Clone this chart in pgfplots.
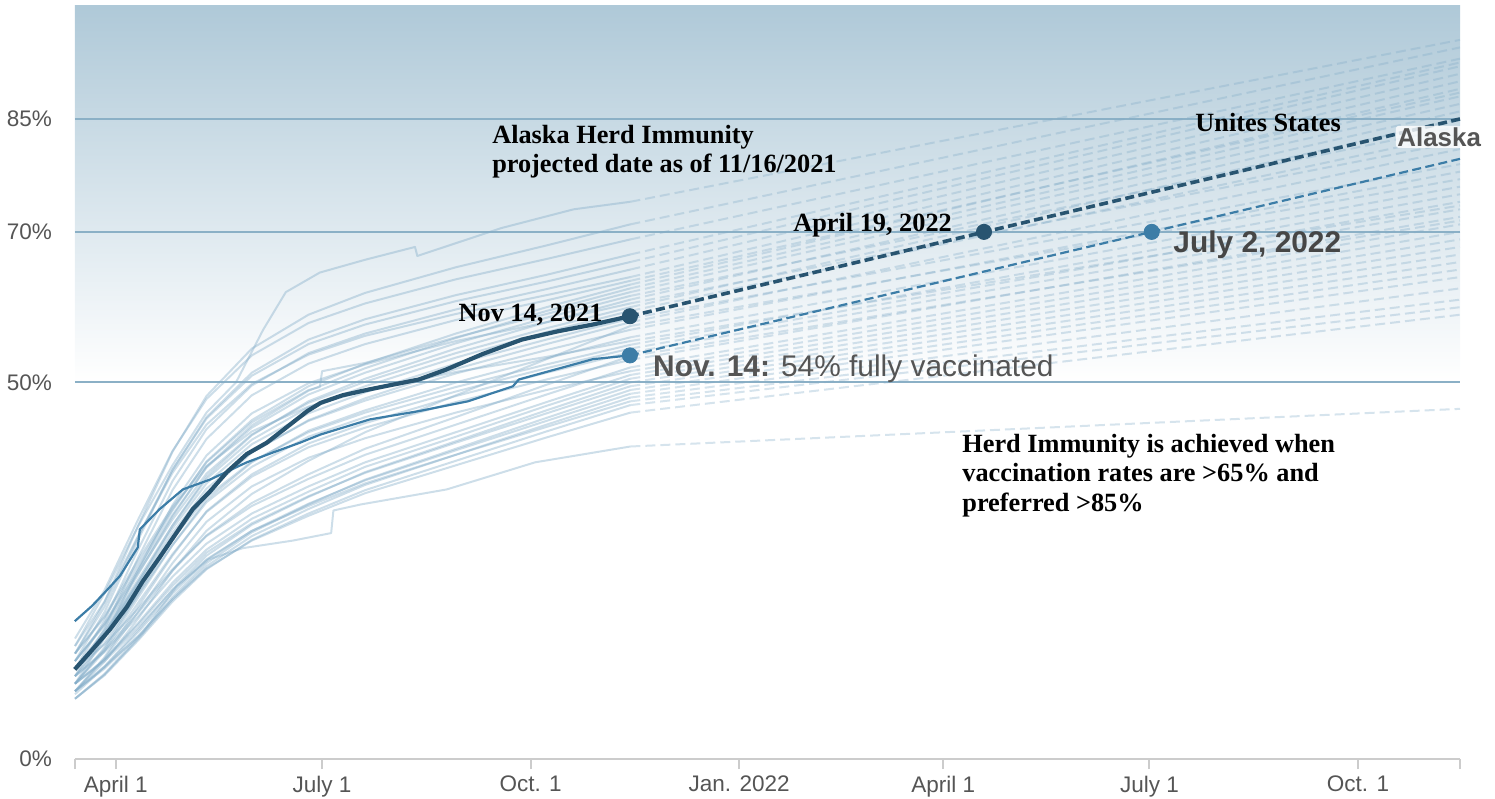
\documentclass[border=0pt]{standalone}
\usepackage{pgfplots}
\pgfplotsset{compat=1.18}
\usepackage{fontspec}
\setmainfont{Liberation Serif}
\newfontfamily\sansf{Liberation Sans}
\definecolor{cDark}{RGB}{40,84,112}
\definecolor{cMid}{RGB}{60,125,167}
\definecolor{cLight}{RGB}{130,172,200}
\definecolor{cTop}{RGB}{175,201,216}
\definecolor{cGrid}{RGB}{139,176,198}
\definecolor{cAxis}{RGB}{204,204,204}
\definecolor{cLabel}{RGB}{85,85,85}
\definecolor{cAnno}{RGB}{70,70,70}
\begin{document}
\begin{tikzpicture}
\begin{axis}[
  scale only axis, width=692.5bp, height=376.5bp,
  xmin=72, xmax=683, ymin=0, ymax=100,
  clip=false,
  axis lines*=left,
  x axis line style={draw=cAxis, line width=1bp},
  y axis line style={draw=none},
  tick align=outside,
  major tick length=5bp,
  xtick style={draw=cAxis, line width=1bp},
  ytick style={draw=none},
  xtick={72,90,181,273,365,455,546,638,683},
  xticklabels={,April 1,July 1,Oct. 1,Jan. 2022,April 1,July 1,Oct. 1,},
  ytick={0,50,70,85},
  yticklabels={0\%,50\%,70\%,85\%},
  tick label style={font=\sansf\fontsize{11.3}{13}\selectfont, text=cLabel},
  yticklabel style={xshift=-3bp},
  stS/.style={draw=cLight, draw opacity=0.4, line width=1bp, mark=none, line join=round},
  stD/.style={draw=cLight, draw opacity=0.33, line width=1bp, mark=none, dash pattern=on 5bp off 2.5bp},
]
% background gradient and grid
\fill[top color=cTop, bottom color=white, draw=none] (axis cs:72,50) rectangle (axis cs:683,100);
\draw[cGrid, line width=1bp] (axis cs:72,50) -- (axis cs:683,50);
\draw[cGrid, line width=1bp] (axis cs:72,70) -- (axis cs:683,70);
\draw[cGrid, line width=1bp] (axis cs:72,85) -- (axis cs:683,85);

% state lines (solid, to Nov 14 2021)
\addplot[stS] coordinates {(72,15)(85,22)(100,31)(115,39)(130,46)(143,50)(155,57)(165,62)(180,64.6)(200,66.3)(222,68)(223,66.8)(260,70.5)(292,73)(317,74)};
\addplot[stS] coordinates {(72,14)(85,20.8)(100,31.1)(115,40.8)(130,48.2)(150,54.5)(175,59.0)(200,61.9)(240,65.3)(280,68.2)(317,71)};
\addplot[stS] coordinates {(72,16)(85,22.4)(100,31.9)(115,40.9)(130,47.8)(150,53.6)(175,57.9)(200,60.5)(240,63.7)(280,66.4)(317,69)};
\addplot[stS] coordinates {(72,13)(85,19.5)(100,29.2)(115,38.4)(130,45.4)(150,51.3)(175,55.7)(200,58.4)(240,61.6)(280,64.3)(317,67)};
\addplot[stS] coordinates {(72,14)(85,20.2)(100,29.6)(115,38.4)(130,45.2)(150,50.9)(175,55.1)(200,57.7)(240,60.8)(280,63.4)(317,66)};
\addplot[stS] coordinates {(72,12)(85,18.4)(100,27.9)(115,36.9)(130,43.8)(150,49.6)(175,53.9)(200,56.5)(240,59.7)(280,62.4)(317,65)};
\addplot[stS] coordinates {(72,15)(85,20.9)(100,29.7)(115,38.0)(130,44.4)(150,49.8)(175,53.7)(200,56.2)(240,59.1)(280,61.6)(317,64)};
\addplot[stS] coordinates {(72,11)(85,17.3)(100,26.8)(115,35.7)(130,42.5)(150,48.3)(175,52.5)(200,55.1)(240,58.3)(280,60.9)(317,63.5)};
\addplot[stS] coordinates {(72,13)(85,18)(100,25.5)(115,33)(130,39.5)(150,45)(175,49.5)(200,52.5)(240,56.5)(280,60)(317,63)};
\addplot[stS] coordinates {(72,12)(85,17.1)(100,24.6)(115,32.2)(130,38.8)(150,44.3)(175,48.9)(200,51.9)(240,55.9)(280,59.5)(317,62.5)};
\addplot[stS] coordinates {(72,14)(85,18.8)(100,26)(115,33.2)(130,39.4)(150,44.7)(175,49.0)(180,49.4)(181,51.5)(200,52.6)(240,56.0)(280,59.1)(317,62)};
\addplot[stS] coordinates {(72,13)(85,17.9)(100,25.1)(115,32.4)(130,38.7)(150,44.0)(175,48.4)(200,51.3)(240,55.2)(280,58.6)(317,61.5)};
\addplot[stS] coordinates {(72,11)(85,16)(100,23.5)(115,31)(130,37.5)(150,43)(175,47.5)(200,50.5)(240,54.5)(280,58)(317,61)};
\addplot[stS] coordinates {(72,10)(85,16.1)(100,25.2)(115,33.7)(130,40.3)(150,45.9)(175,49.9)(200,52.4)(240,55.5)(280,58.0)(317,60.5)};
\addplot[stS] coordinates {(72,13)(85,17.7)(100,24.8)(115,31.8)(130,37.9)(150,43.1)(175,47.3)(200,50.1)(240,53.9)(280,57.2)(317,60)};
\addplot[stS] coordinates {(72,12)(85,16.8)(100,23.9)(115,31)(130,37.2)(150,42.4)(175,46.7)(200,49.5)(240,53.3)(280,56.7)(317,59.5)};
\addplot[stS] coordinates {(72,12)(85,16.7)(100,23.6)(115,30.6)(130,36.6)(150,41.8)(175,45.9)(200,48.7)(240,52.5)(280,55.7)(317,58.5)};
\addplot[stS] coordinates {(72,10)(85,14.8)(100,22)(115,29.2)(130,35.4)(150,40.7)(175,45.0)(200,47.9)(240,51.8)(280,55.1)(317,58)};
\addplot[stS] coordinates {(72,9)(85,12.9)(100,18.7)(115,25.0)(130,30.3)(150,35.2)(175,39.6)(200,43.4)(240,48.3)(280,53.1)(317,57.5)};
\addplot[stS] coordinates {(72,12)(85,16.5)(100,23.3)(115,30)(130,35.9)(150,40.8)(175,44.9)(200,47.6)(240,51.2)(280,54.3)(317,57)};
\addplot[stS] coordinates {(72,10)(85,14.6)(100,21.5)(115,28.4)(130,34.4)(150,39.4)(175,43.6)(200,46.3)(240,50.0)(280,53.2)(317,56)};
\addplot[stS] coordinates {(72,14)(85,19.0)(100,26.5)(115,33.5)(130,38.9)(150,43.5)(175,46.8)(200,48.9)(240,51.4)(280,53.4)(317,55.5)};
\addplot[stS] coordinates {(72,12)(85,16.3)(100,22.8)(115,29.2)(130,34.8)(150,39.5)(175,43.4)(200,46.0)(240,49.4)(280,52.4)(317,55)};
\addplot[stS] coordinates {(72,11)(85,15.4)(100,21.9)(115,28.4)(130,34.1)(150,38.8)(175,42.8)(200,45.4)(240,48.8)(280,51.9)(317,54.5)};
\addplot[stS] coordinates {(72,9)(85,13.5)(100,20.3)(115,27)(130,32.9)(150,37.8)(175,41.9)(200,44.6)(240,48.2)(280,51.3)(317,54)};
\addplot[stS] coordinates {(72,11)(85,14.4)(100,19.5)(115,25.0)(130,29.7)(150,34.0)(175,37.8)(200,41.2)(240,45.4)(280,49.7)(317,53.5)};
\addplot[stS] coordinates {(72,10)(85,14.3)(100,20.8)(115,27.2)(130,32.8)(150,37.5)(175,41.4)(200,44.0)(240,47.4)(280,50.4)(317,53)};
\addplot[stS] coordinates {(72,12)(85,15.2)(100,20)(115,25.2)(130,29.6)(150,33.6)(175,37.2)(200,40.4)(240,44.4)(280,48.4)(317,52)};
\addplot[stS] coordinates {(72,9)(85,13.3)(100,19.6)(115,26)(130,31.5)(150,36.2)(175,40.0)(200,42.6)(240,46.0)(280,49.0)(317,51.5)};
\addplot[stS] coordinates {(72,11)(85,14.2)(100,19)(115,24.2)(130,28.6)(150,32.6)(175,36.2)(200,39.4)(240,43.4)(280,47.4)(317,51)};
\addplot[stS] coordinates {(72,10)(85,13.2)(100,18.1)(115,23.4)(130,27.8)(150,31.9)(175,35.5)(200,38.8)(240,42.8)(280,46.9)(317,50.5)};
\addplot[stS] coordinates {(72,9)(85,12.3)(100,17.2)(115,22.5)(130,27.0)(150,31.1)(175,34.8)(200,38.1)(240,42.2)(280,46.3)(317,50)};
\addplot[stS] coordinates {(72,10)(85,13.2)(100,17.9)(115,23.0)(130,27.4)(150,31.3)(175,34.9)(200,38.0)(240,42.0)(280,45.9)(317,49.5)};
\addplot[stS] coordinates {(72,8)(85,11.3)(100,16.2)(115,21.5)(130,26.0)(150,30.1)(175,33.8)(200,37.1)(240,41.2)(280,45.3)(317,49)};
\addplot[stS] coordinates {(72,9)(85,12.2)(100,16.9)(115,22.0)(130,26.4)(150,30.3)(175,33.9)(200,37.0)(240,41.0)(280,44.9)(317,48.5)};
\addplot[stS] coordinates {(72,8)(85,11.2)(100,16)(115,21.2)(130,25.6)(150,29.6)(175,33.2)(200,36.4)(240,40.4)(280,44.4)(317,48)};
\addplot[stS] coordinates {(72,10)(85,13)(100,17.5)(115,22.4)(130,26.5)(150,30.3)(175,33.6)(200,36.6)(240,40.4)(280,44.1)(317,47.5)};
\addplot[stS] coordinates {(72,8)(85,11.1)(100,15.8)(115,20.9)(130,25.2)(150,29.1)(175,32.6)(200,35.7)(240,39.6)(280,43.5)(317,47)};
\addplot[stS] coordinates {(72,9)(85,12.0)(100,16.4)(115,21.2)(130,25.3)(150,29.0)(175,32.3)(200,35.3)(240,39.0)(280,42.7)(317,46)};
\addplot[stS] coordinates {(72,8.6)(86,12.5)(102,16.8)(117,23)(131,26.5)(146,28)(168,29)(185,30)(186,33)(198,33.8)(236,35.8)(275,39.4)(317,41.5)};

% state projections (dashed)
\addplot[stD] coordinates {(317,74)(683,95.5)};
\addplot[stD] coordinates {(317,71)(683,94.5)};
\addplot[stD] coordinates {(317,69)(683,93)};
\addplot[stD] coordinates {(317,67)(683,92.5)};
\addplot[stD] coordinates {(317,66)(683,92)};
\addplot[stD] coordinates {(317,65)(683,91)};
\addplot[stD] coordinates {(317,64)(683,90)};
\addplot[stD] coordinates {(317,63.5)(683,88.5)};
\addplot[stD] coordinates {(317,63)(683,89)};
\addplot[stD] coordinates {(317,62.5)(683,88)};
\addplot[stD] coordinates {(317,62)(683,87)};
\addplot[stD] coordinates {(317,61.5)(683,84)};
\addplot[stD] coordinates {(317,61)(683,86)};
\addplot[stD] coordinates {(317,60.5)(683,82)};
\addplot[stD] coordinates {(317,60)(683,85)};
\addplot[stD] coordinates {(317,59.5)(683,83)};
\addplot[stD] coordinates {(317,58.5)(683,79)};
\addplot[stD] coordinates {(317,58)(683,81)};
\addplot[stD] coordinates {(317,57.5)(683,77)};
\addplot[stD] coordinates {(317,57)(683,78)};
\addplot[stD] coordinates {(317,56)(683,76)};
\addplot[stD] coordinates {(317,55.5)(683,73.5)};
\addplot[stD] coordinates {(317,55)(683,75)};
\addplot[stD] coordinates {(317,54.5)(683,74)};
\addplot[stD] coordinates {(317,54)(683,73)};
\addplot[stD] coordinates {(317,53.5)(683,71.5)};
\addplot[stD] coordinates {(317,53)(683,72)};
\addplot[stD] coordinates {(317,52)(683,71)};
\addplot[stD] coordinates {(317,51.5)(683,70)};
\addplot[stD] coordinates {(317,51)(683,69)};
\addplot[stD] coordinates {(317,50.5)(683,68)};
\addplot[stD] coordinates {(317,50)(683,67)};
\addplot[stD] coordinates {(317,49.5)(683,66)};
\addplot[stD] coordinates {(317,49)(683,65)};
\addplot[stD] coordinates {(317,48.5)(683,64)};
\addplot[stD] coordinates {(317,48)(683,62.5)};
\addplot[stD] coordinates {(317,47.5)(683,61)};
\addplot[stD] coordinates {(317,47)(683,60)};
\addplot[stD] coordinates {(317,46)(683,59)};
\addplot[stD] coordinates {(317,41.5)(683,46.5)};

% medium line
\addplot[cMid, line width=1.1bp, mark=none, line join=round] coordinates {(71.9,18.3)(79.4,20.3)(85.1,22.1)(91.8,24.3)(99.7,28.1)(100.6,30.5)(109.4,33.2)(119.6,35.8)(131.5,37.1)(147.8,39.4)(159.3,40.7)(171.2,42.0)(180.4,43.1)(202.1,45.1)(223.7,46.2)(245.3,47.5)(265.2,49.5)(267.8,50.4)(300.5,53.1)(316.8,53.6)};
\addplot[cMid, line width=1.1bp, mark=none, dash pattern=on 4.5bp off 2.2bp] coordinates {(316.8,53.6)(683,79.7)};
% dark line
\addplot[cDark, line width=2.1bp, mark=none, line join=round] coordinates {(71.9,11.9)(79.9,14.6)(87.4,17.2)(94.9,20.2)(101.9,23.6)(109.4,26.8)(116.9,30.1)(124.0,33.2)(131.5,35.5)(139.0,38.1)(147.8,40.5)(156.6,42.0)(168.1,44.7)(174.5,46.2)(180.4,47.3)(190.0,48.3)(202.1,49.1)(223.7,50.4)(235.6,51.7)(252.0,53.8)(269.1,55.7)(285.0,56.8)(300.5,57.7)(316.8,58.8)};
\addplot[cDark, line width=1.8bp, mark=none, dash pattern=on 4.5bp off 2.2bp] coordinates {(316.8,58.8)(683,85.0)};
% dots
\addplot[only marks, mark=*, mark size=3.8bp, cDark] coordinates {(316.8,58.8)(473,70)};
\addplot[only marks, mark=*, mark size=3.8bp, cMid] coordinates {(316.8,53.6)(547,70)};

\coordinate (SW) at (rel axis cs:0,0);
\coordinate (NE) at (rel axis cs:1,1);
\coordinate (tA) at (axis cs:255.9,81.8);
\coordinate (tB) at (axis cs:255.9,77.9);
\coordinate (tNov) at (axis cs:304.9,58.1);
\coordinate (tApr) at (axis cs:388.7,70.0);
\coordinate (tUS) at (axis cs:566.1,83.3);
\coordinate (h1) at (axis cs:463.3,40.7);
\coordinate (h2) at (axis cs:463.3,36.9);
\coordinate (h3) at (axis cs:463.3,32.9);
\coordinate (tAK) at (axis cs:655.2,81.6);
\coordinate (tJul) at (axis cs:556.4,67.2);
\coordinate (tN14) at (axis cs:326.9,50.8);
\end{axis}

\begin{scope}[every node/.style={font=\bfseries\fontsize{13.2}{15}\selectfont, text=black, inner sep=0}]
\node[anchor=base west] at (tA) {Alaska Herd Immunity};
\node[anchor=base west] at (tB) {projected date as of 11/16/2021};
\node[anchor=base east] at (tNov) {Nov 14, 2021};
\node[anchor=base west] at (tApr) {April 19, 2022};
\node[anchor=base west] at (tUS) {Unites States};
\node[anchor=base west] at (h1) {Herd Immunity is achieved when};
\node[anchor=base west] at (h2) {vaccination rates are >65\% and};
\node[anchor=base west] at (h3) {preferred >85\%};
\end{scope}
\node[anchor=base west, inner sep=0.8bp, fill=white, fill opacity=0.8, text opacity=1, rounded corners=1.5bp, text=cLabel, font=\sansf\bfseries\fontsize{13}{15}\selectfont] at ([shift={(-0.8bp,-0.8bp)}]tAK) {Alaska};
\node[anchor=base west, inner sep=0, text=cAnno, font=\sansf\bfseries\fontsize{15}{17}\selectfont] at (tJul) {July 2, 2022};
\node[anchor=base west, inner sep=0, text=cLabel, font=\sansf\fontsize{15}{17}\selectfont] at (tN14) {\textbf{Nov. 14:} 54\% fully vaccinated};

\pgfresetboundingbox
\path[use as bounding box] ([shift={(-37.5bp,-20bp)}]SW) rectangle ([shift={(17.5bp,3bp)}]NE);
\end{tikzpicture}
\end{document}
